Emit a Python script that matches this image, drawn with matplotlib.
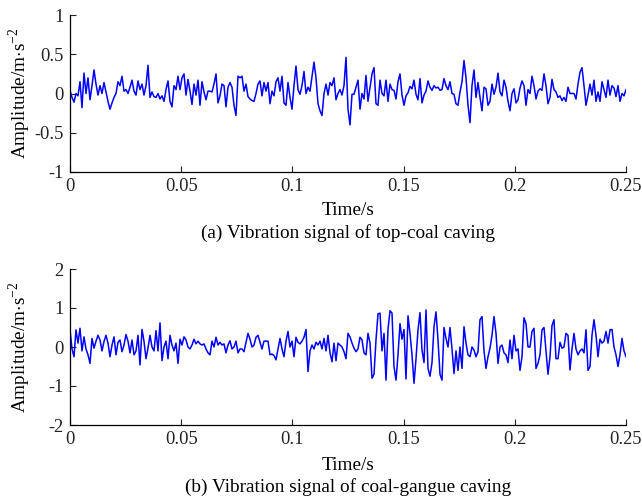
import numpy as np
import matplotlib

matplotlib.use("Agg")
import matplotlib.pyplot as plt

# values, one sample per ~2 px of axis width
top_coal = [
    0.04, -0.05, -0.11, 0.0, -0.03, 0.15, -0.18, 0.26, 0.0, 0.2,
    -0.08, 0.1, 0.3, 0.12, -0.02, 0.1, 0.0, 0.14, 0.02, -0.1,
    -0.2, -0.12, -0.05, 0.0, 0.15, 0.1, 0.22, 0.03, 0.05, 0.0,
    0.08, 0.17, 0.03, -0.02, 0.16, 0.05, 0.12, -0.02, 0.1, 0.36,
    -0.05, 0.02, -0.04, -0.05, 0.0, -0.07, -0.03, -0.1, 0.05, 0.16,
    -0.1, -0.17, 0.1, 0.05, 0.22, 0.05, 0.2, 0.25, -0.02, 0.18,
    0.03, -0.14, 0.12, -0.02, 0.17, -0.15, 0.15, 0.02, -0.08, 0.03,
    # 0.063 s ..
    0.03, 0.02, 0.12, 0.25, -0.12, -0.03, 0.12, 0.1, -0.17, 0.08,
    0.14, 0.08, -0.15, -0.28, 0.22, 0.2, 0.22, 0.03, 0.12, -0.04,
    -0.07, -0.09, -0.1, 0.0, 0.12, 0.16, -0.03, 0.14, 0.03, 0.14,
    -0.13, 0.03, -0.03, 0.15, 0.2, 0.03, 0.22, -0.12, -0.15, 0.14,
    -0.05, -0.2, 0.1, 0.35, 0.05, -0.01, 0.1, 0.28, 0.0, 0.08,
    0.03, 0.22, 0.4, 0.2, -0.13, -0.22, -0.28, 0.0, 0.12, -0.02,
    0.14, 0.1, 0.2, -0.08, 0.0, 0.05, -0.02, 0.1, 0.46, -0.2,
    # 0.126 s ..
    -0.4, -0.01, -0.01, 0.08, 0.17, -0.2, 0.0, -0.07, 0.23, -0.1,
    0.08, 0.25, 0.33, -0.13, -0.15, 0.17, 0.0, -0.03, 0.17, -0.1,
    0.12, 0.05, 0.04, -0.07, 0.15, 0.25, -0.02, -0.15, -0.03, 0.01,
    0.09, 0.06, 0.17, -0.01, -0.08, 0.19, -0.12, -0.02, 0.03, 0.16,
    0.08, 0.04, 0.1, 0.07, 0.08, 0.04, 0.05, 0.19, 0.1, 0.05,
    0.15, 0.0, -0.01, -0.13, -0.15, 0.02, 0.15, 0.42, 0.2, -0.15,
    -0.37, 0.1, 0.3, -0.05, 0.14, -0.05, -0.22, 0.08, 0.06, -0.15,
    # 0.189 s .. 0.25 s
    -0.1, 0.12, -0.01, 0.08, 0.26, 0.02, -0.03, 0.17, 0.08, -0.1,
    -0.22, 0.0, 0.06, -0.12, -0.08, 0.07, 0.16, 0.1, -0.15, 0.05,
    0.0, 0.22, 0.1, -0.07, 0.03, 0.06, 0.04, 0.25, 0.1, -0.13,
    -0.05, 0.18, 0.05, 0.02, -0.05, -0.03, -0.09, -0.05, -0.1, 0.08,
    0.0, 0.0, 0.0, -0.07, 0.12, 0.27, 0.33, 0.1, -0.15, -0.02,
    0.12, -0.02, 0.17, -0.1, 0.02, -0.1, 0.15, 0.05, -0.05, 0.17,
    -0.02, 0.1, 0.07, -0.04, 0.1, -0.1, 0.0, -0.03, 0.05,
]

coal_gangue = [
    0.44, -0.05, -0.25, 0.44, 0.1, 0.48, -0.1, 0.26, -0.05, -0.2,
    -0.42, 0.22, -0.03, 0.15, 0.3, 0.18, -0.1, 0.14, 0.3, 0.1,
    -0.25, 0.05, 0.26, -0.2, 0.12, 0.18, -0.12, 0.05, 0.32, 0.15,
    -0.15, 0.18, -0.2, -0.1, 0.3, -0.46, 0.45, 0.15, -0.3, -0.03,
    0.3, 0.0, -0.1, 0.42, -0.1, 0.62, -0.35, 0.0, 0.15, -0.3,
    0.3, 0.05, -0.1, 0.1, -0.42, 0.2, 0.05, 0.26, 0.18, 0.0,
    -0.05, 0.05, 0.2, 0.08, 0.15, 0.08, 0.05, 0.08, -0.05, -0.15,
    # 0.063 s ..
    -0.2, 0.15, 0.0, 0.25, 0.05, 0.12, 0.05, 0.08, -0.15, 0.05,
    0.16, -0.05, 0.0, 0.15, -0.15, -0.05, -0.05, -0.12, 0.12, 0.35,
    0.2, 0.0, 0.05, 0.25, 0.3, 0.12, -0.05, 0.15, 0.15, 0.15,
    -0.2, -0.18, -0.22, -0.33, -0.05, 0.22, -0.05, -0.25, 0.15, 0.4,
    0.0, 0.15, -0.25, 0.25, 0.12, 0.08, 0.15, 0.25, 0.45, -0.63,
    -0.1, 0.05, -0.05, 0.12, 0.05, 0.15, -0.05, 0.22, -0.1, 0.3,
    -0.15, -0.38, 0.1, -0.35, 0.1, 0.05, 0.0, -0.12, -0.3, 0.35,
    # 0.126 s ..
    0.26, 0.1, -0.03, -0.12, -0.05, 0.25, 0.18, -0.15, -0.2, 0.35,
    0.1, -0.8, -0.7, 0.18, 0.85, 0.87, -0.1, 0.35, -0.85, 0.45,
    0.93, 0.87, -0.5, -0.85, -0.2, 0.6, 0.2, 0.45, -0.82, 0.8,
    0.35, -0.2, -0.93, -0.3, 0.44, 0.88, -0.08, -0.4, 0.95, -0.55,
    -0.75, -0.4, 0.52, 0.9, 0.18, -0.7, -0.85, 0.5, 0.22, 0.0,
    0.5, -0.05, -0.68, -0.1, -0.6, 0.0, -0.55, 0.52, 0.1, -0.2,
    -0.25, 0.0, -0.08, -0.25, -0.12, 0.7, 0.78, -0.1, -0.55, -0.25,
    # 0.189 s .. 0.25 s
    -0.03, 0.3, 0.78, 0.35, -0.42, 0.0, 0.05, -0.15, -0.2, -0.4,
    0.18, -0.3, 0.3, -0.1, -0.05, -0.6, -0.25, 0.75, 0.6, 0.0,
    0.0, 0.4, 0.48, -0.55, -0.42, -0.2, 0.44, 0.5, -0.1, -0.7,
    -0.25, 0.55, 0.7, -0.3, -0.3, 0.12, -0.03, 0.0, 0.35, 0.3,
    -0.59, -0.05, 0.35, -0.05, -0.2, -0.1, -0.05, -0.15, 0.44, -0.6,
    -0.5, 0.3, 0.7, 0.3, -0.25, 0.2, 0.1, 0.15, 0.4, 0.1,
    0.44, 0.45, 0.0, -0.2, -0.5, -0.2, 0.22, -0.1, -0.25,
]

x_ticks = [0, 0.05, 0.1, 0.15, 0.2, 0.25]
x_tick_labels = ["0", "0.05", "0.1", "0.15", "0.2", "0.25"]
top_y_ticks = [-1, -0.5, 0, 0.5, 1]
top_y_labels = ["-1", "-0.5", "0", "0.5", "1"]
bot_y_ticks = [-2, -1, 0, 1, 2]
bot_y_labels = ["-2", "-1", "0", "1", "2"]

plt.rcParams["font.family"] = ["Liberation Serif", "DejaVu Serif"]
plt.rcParams["mathtext.fontset"] = "custom"
plt.rcParams["mathtext.rm"] = "Liberation Serif"
plt.rcParams["axes.unicode_minus"] = False

LABEL_SIZE = 13.9
TICK_SIZE = 13.3

fig = plt.figure(figsize=(6.42, 5.0), dpi=100)
W, H = 642, 500


def make_axes(top_px, bottom_px):
    return fig.add_axes([70 / W, 1 - bottom_px / H, 556 / W, (bottom_px - top_px) / H])


def style(ax, yticks, ylabels, ylim, xlab_y):
    ax.set_xlim(0, 0.25)
    ax.set_ylim(*ylim)
    ax.set_xticks(x_ticks)
    ax.set_xticklabels(x_tick_labels)
    ax.set_yticks(yticks)
    ax.set_yticklabels(ylabels)
    for side in ("top", "right"):
        ax.spines[side].set_visible(False)
    for side in ("left", "bottom"):
        ax.spines[side].set_linewidth(0.9)
    ax.tick_params(direction="in", length=4, width=0.8, pad=4.5, colors="#222222",
                   labelsize=TICK_SIZE)
    ax.set_xlabel("Time/s", fontsize=LABEL_SIZE)
    ax.xaxis.label.set_verticalalignment("center")
    ax.xaxis.set_label_coords(0.5, xlab_y)
    ax.set_ylabel(r"Amplitude/m$\cdot$s$^{-2}$", fontsize=LABEL_SIZE)
    ax.yaxis.set_label_coords(-0.066, 0.5)


ax1 = make_axes(15, 172)
t1 = np.linspace(0, 0.25, len(top_coal))
ax1.plot(t1, top_coal, color="#0000FF", lw=1.1)
style(ax1, top_y_ticks, top_y_labels, (-1, 1), -0.246)

ax2 = make_axes(269, 425)
t2 = np.linspace(0, 0.25, len(coal_gangue))
ax2.plot(t2, coal_gangue, color="#0000FF", lw=1.1)
style(ax2, bot_y_ticks, bot_y_labels, (-2, 2), -0.261)

fig.text(348 / W, 1 - 233 / H, "(a) Vibration signal of top-coal caving",
         ha="center", va="center", fontsize=LABEL_SIZE)
fig.text(348 / W, 1 - 486.7 / H, "(b) Vibration signal of coal-gangue caving",
         ha="center", va="center", fontsize=LABEL_SIZE)

fig.savefig("out.png", dpi=100)
